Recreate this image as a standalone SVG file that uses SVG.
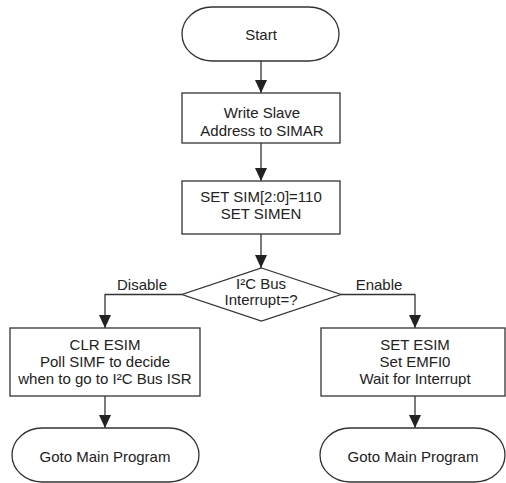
<svg xmlns="http://www.w3.org/2000/svg" width="506" height="483" viewBox="0 0 506 483">
<style>
.s{fill:#fff;stroke:#333;stroke-width:1.3}
.t{font-family:"Liberation Sans",Arial,sans-serif;font-size:15px;fill:#222;text-anchor:middle}
.c{fill:none;stroke:#333;stroke-width:1.3}
</style>
<defs>
<marker id="a" markerUnits="userSpaceOnUse" markerWidth="14" markerHeight="12" refX="13" refY="6" orient="auto" viewBox="0 0 14 12">
<path d="M0,0 L13,6 L0,12 Z" fill="#222"/>
</marker>
</defs>
<g id="connectors">
<path class="c" d="M261,61 V93" marker-end="url(#a)"/>
<path class="c" d="M261,143 V181" marker-end="url(#a)"/>
<path class="c" d="M261,234 V268" marker-end="url(#a)"/>
<path class="c" d="M182,294.5 H105 V328" marker-end="url(#a)"/>
<path class="c" d="M341,294.5 H415 V328" marker-end="url(#a)"/>
<path class="c" d="M105,396 V428" marker-end="url(#a)"/>
<path class="c" d="M415,396 V428" marker-end="url(#a)"/>
<text class="t" x="142" y="290">Disable</text>
<text class="t" x="379" y="290">Enable</text>
</g>
<g id="start">
<rect class="s" x="182" y="7" width="157" height="54" rx="30" ry="27"/>
<text class="t" x="261" y="40">Start</text>
</g>
<g id="write">
<rect class="s" x="182" y="93" width="158" height="50"/>
<text class="t" x="262" y="118">Write Slave</text>
<text class="t" x="262" y="136">Address to SIMAR</text>
</g>
<g id="set">
<rect class="s" x="182" y="181" width="158" height="53"/>
<text class="t" x="261" y="202">SET SIM[2:0]=110</text>
<text class="t" x="261" y="219">SET SIMEN</text>
</g>
<g id="decision">
<polygon class="s" points="261.5,268 341,294.5 261.5,321 182,294.5"/>
<text class="t" x="261" y="289">I²C Bus</text>
<text class="t" x="261" y="305">Interrupt=?</text>
</g>
<g id="clr">
<rect class="s" x="10" y="328" width="190" height="68"/>
<text class="t" x="105" y="350">CLR ESIM</text>
<text class="t" x="105" y="367">Poll SIMF to decide</text>
<text class="t" x="105" y="384">when to go to I²C Bus ISR</text>
</g>
<g id="seten">
<rect class="s" x="321" y="328" width="184" height="68"/>
<text class="t" x="415" y="350">SET ESIM</text>
<text class="t" x="415" y="367">Set EMFI0</text>
<text class="t" x="415" y="384">Wait for Interrupt</text>
</g>
<g id="main1">
<rect class="s" x="12" y="428" width="187" height="54" rx="30" ry="27"/>
<text class="t" x="105" y="462">Goto Main Program</text>
</g>
<g id="main2">
<rect class="s" x="320" y="428" width="185" height="54" rx="30" ry="27"/>
<text class="t" x="413" y="462">Goto Main Program</text>
</g>
</svg>
